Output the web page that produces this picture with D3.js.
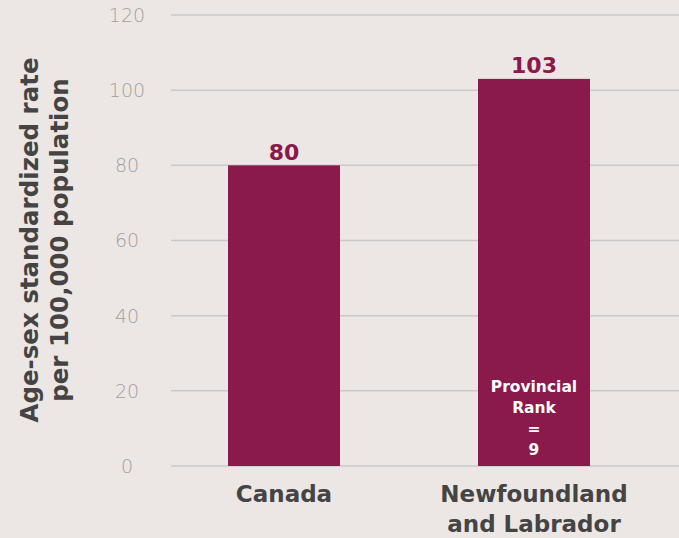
<!DOCTYPE html>
<html>
<head>
<meta charset="utf-8">
<script src="https://cdn.jsdelivr.net/npm/d3@7"></script>
<style>
  html, body { margin: 0; padding: 0; background: #ece7e5; }
  svg { display: block; }
</style>
</head>
<body>
<svg id="chart" width="679" height="538"></svg>
<script>
// Data
const categories = ["Canada", "Newfoundland and Labrador"];
const categoryLines = [["Canada"], ["Newfoundland", "and Labrador"]];
const rates = [80, 103];
const yTicks = [0, 20, 40, 60, 80, 100, 120];
const yTitleLines = ["Age-sex standardized rate", "per 100,000 population"];
const rankLines = ["Provincial", "Rank", "=", "9"];

const W = 679, H = 538;
const barColor = "#8a1a4b";
const textDark = "#444444";
const tickGrey = "#a0a0a0";
const gridColor = "#cbc8ca";
const font = "'DejaVu Sans', sans-serif";

const svg = d3.select("#chart");

const y = d3.scaleLinear().domain([0, 120]).range([466, 15]);
const x = d3.scaleBand().domain(categories).range([171, 647])
  .paddingInner(0.552).paddingOuter(0.228);

// gridlines
svg.append("g").selectAll("line").data(yTicks).join("line")
  .attr("x1", 171).attr("x2", W)
  .attr("y1", d => y(d)).attr("y2", d => y(d))
  .attr("stroke", gridColor).attr("stroke-width", 1.5);

// tick labels
svg.append("g").selectAll("text").data(yTicks).join("text")
  .attr("x", 127).attr("y", d => y(d))
  .attr("dy", "0.36em")
  .attr("text-anchor", "middle")
  .attr("font-family", font).attr("font-weight", 200)
  .attr("font-size", 19).attr("fill", tickGrey)
  .text(d => d);

// bars
svg.append("g").selectAll("rect").data(rates).join("rect")
  .attr("x", (d, i) => x(categories[i]))
  .attr("width", x.bandwidth())
  .attr("y", d => y(d))
  .attr("height", d => y(0) - y(d))
  .attr("fill", barColor);

// value labels
svg.append("g").selectAll("text").data(rates).join("text")
  .attr("x", (d, i) => x(categories[i]) + x.bandwidth() / 2)
  .attr("y", d => y(d) - 5.5)
  .attr("text-anchor", "middle")
  .attr("font-family", font).attr("font-weight", "bold")
  .attr("font-size", 22).attr("fill", barColor)
  .text(d => d);

// category labels
const cat = svg.append("g");
categoryLines.forEach((lines, i) => {
  const cx = x(categories[i]) + x.bandwidth() / 2;
  lines.forEach((ln, j) => {
    cat.append("text")
      .attr("x", cx).attr("y", 502 + j * 30)
      .attr("text-anchor", "middle")
      .attr("font-family", font).attr("font-weight", "bold")
      .attr("font-size", 23).attr("fill", textDark)
      .text(ln);
  });
});

// provincial rank note inside the second bar
const rcx = x(categories[1]) + x.bandwidth() / 2;
svg.append("g").selectAll("text").data(rankLines).join("text")
  .attr("x", rcx)
  .attr("y", (d, i) => 392 + i * 21)
  .attr("text-anchor", "middle")
  .attr("font-family", font).attr("font-weight", "bold")
  .attr("font-size", 15.5).attr("fill", "#ffffff")
  .text(d => d);

// y axis title
const yt = svg.append("g").attr("transform", "translate(0,240) rotate(-90)");
yTitleLines.forEach((ln, j) => {
  yt.append("text")
    .attr("x", 0).attr("y", 38 + j * 29.5)
    .attr("text-anchor", "middle")
    .attr("font-family", font).attr("font-weight", "bold")
    .attr("font-size", 24.5).attr("fill", textDark)
    .text(ln);
});
</script>
</body>
</html>
